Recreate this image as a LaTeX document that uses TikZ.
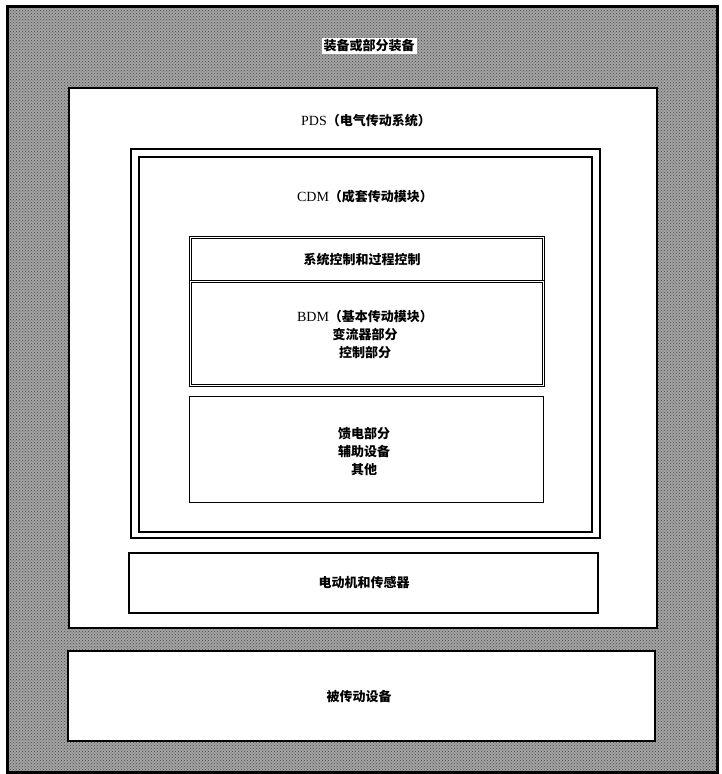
\documentclass[tikz,border=0pt]{standalone}
\usepackage{fontspec}
\usetikzlibrary{patterns}
\setmainfont{Liberation Serif}
\newfontfamily\cjk{Noto Sans CJK SC}
\newcommand{\zh}[1]{{\cjk\bfseries #1}}
\newcommand{\lat}[1]{{\fontsize{14}{18}\selectfont #1}}
\definecolor{hatch}{gray}{0.64}
\tikzset{
  box/.style={draw=black, anchor=north west, inner sep=0pt},
  dbl/.style={box, draw=black, double=white, double distance=1.6pt, line width=0.7pt},
  lbl/.style={inner sep=1pt, font=\fontsize{13}{18}\selectfont, align=center}
}
\begin{document}
\begin{tikzpicture}[x=1pt, y=-1pt]
\useasboundingbox (0,0) rectangle (721,774);
\fill[white] (0,0) rectangle (721,774);
% outer frame
\node[box, line width=3pt, fill=hatch, minimum width=710pt, minimum height=766pt] (outer) at (6,5) {};
\fill[pattern=crosshatch dots, pattern color=black!70] (outer.north west) rectangle (outer.south east);
\node[box, line width=3pt, minimum width=710pt, minimum height=766pt] (outerline) at (6,5) {};
\node[lbl, fill=white, inner sep=2pt] (lblTop) at (369,46) {\zh{装备或部分装备}};
% PDS
\node[box, line width=2.2pt, fill=white, minimum width=588pt, minimum height=540pt] (pds) at (68,87) {};
\node[lbl] (lblPDS) at (366,121) {\lat{PDS}\zh{（电气传动系统）}};
% CDM double frame
\node[box, line width=2pt, minimum width=469pt, minimum height=389pt] (cdmo) at (130,148) {};
\node[box, line width=1.6pt, minimum width=453pt, minimum height=375pt] (cdmi) at (138,156) {};
\node[lbl] (lblCDM) at (365,197) {\lat{CDM}\zh{（成套传动模块）}};
% system control and BDM
\node[dbl, minimum width=353pt, minimum height=44pt] (sys) at (190,237) {};
\node[lbl] (lblSys) at (362,260) {\zh{系统控制和过程控制}};
\node[dbl, minimum width=353pt, minimum height=104pt] (bdm) at (190,281) {};
\node[lbl] (lblBDM) at (365,335) {\lat{BDM}\zh{（基本传动模块）}\\ \zh{变流器部分}\\ \zh{控制部分}};
% feeding etc.
\node[box, line width=1pt, minimum width=354pt, minimum height=106pt] (feed) at (189,396) {};
\node[lbl] (lblFeed) at (364,451) {\zh{馈电部分}\\ \zh{辅助设备}\\ \zh{其他}};
% motor
\node[box, line width=1.6pt, minimum width=469pt, minimum height=60pt] (motor) at (128,552) {};
\node[lbl] (lblMotor) at (364,583) {\zh{电动机和传感器}};
% driven equipment
\node[box, line width=2.2pt, fill=white, minimum width=587pt, minimum height=90pt] (load) at (67,650) {};
\node[lbl] (lblLoad) at (359,697) {\zh{被传动设备}};
\end{tikzpicture}
\end{document}
